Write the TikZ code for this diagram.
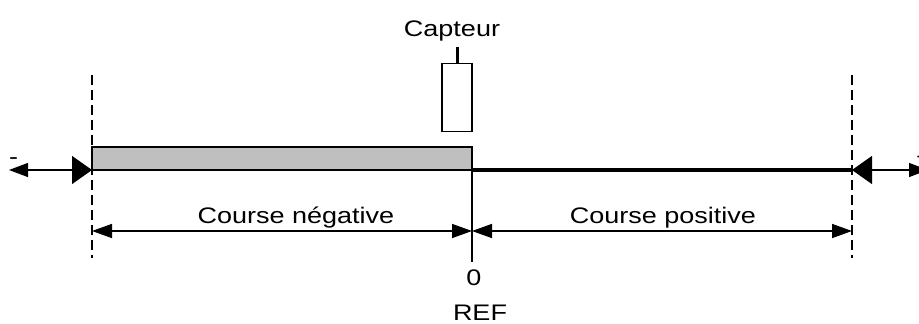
\documentclass[tikz,border=0pt]{standalone}
\usepackage{fontspec}
\setmainfont{Liberation Sans}[FakeStretch=1.2]
\usetikzlibrary{arrows.meta}

\begin{document}
\begin{tikzpicture}[x=1pt,y=-1pt,
    txt/.style={font=\fontsize{22.5}{26}\selectfont, inner sep=0pt, anchor=base},
    limite/.style={dash pattern=on 10pt off 5pt, line width=1.3pt},
    cote/.style={{Triangle[length=20pt,width=14pt]}-{Triangle[length=20pt,width=14pt]}, line width=1.5pt},
    butee/.style={{Triangle[length=19pt,width=14pt]}-{Triangle[length=20pt,width=28pt]}, line width=1.2pt}]
    \useasboundingbox (0,0) rectangle (919,324);
    \coordinate (gauche) at (92,170);
    \coordinate (droite) at (852,170);
    \coordinate (zero) at (472,170);
    \coordinate (moins) at (9,170);
    \coordinate (plus) at (928,170);
    \coordinate (cg) at (92,231);
    \coordinate (cz) at (472,231);
    \coordinate (cd) at (852,231);
    % course
    \filldraw[fill=black!25, line width=1.5pt] (92,147) rectangle (zero);
    \draw[line width=4pt] (zero) -- (droite);
    \draw[limite] (92,75) -- (92,258);
    \draw[limite] (852,75) -- (852,258);
    \draw[line width=1.2pt] (472,147) -- (472,262);
    % capteur
    \node[draw, line width=1.5pt, minimum width=30, minimum height=68] (capteur) at (457,97.5) {};
    \draw[line width=3pt] (capteur.north) -- ++(0,-16);
    \node[txt] (nom) at (452,36) {Capteur};
    % butees
    \draw[butee] (moins) -- (gauche);
    \draw[butee] (plus) -- (droite);
    \node[txt] (m) at (13.5,164) {-};
    \node[txt] (p) at (924,164) {+};
    % cotes
    \draw[cote] (cg) -- (cz);
    \draw[cote] (cz) -- (cd);
    \node[txt] (neg) at (296,223) {Course négative};
    \node[txt] (pos) at (663,223) {Course positive};
    \node[txt] (z) at (474,285) {0};
    \node[txt] (ref) at (480,320) {REF};
\end{tikzpicture}
\end{document}
